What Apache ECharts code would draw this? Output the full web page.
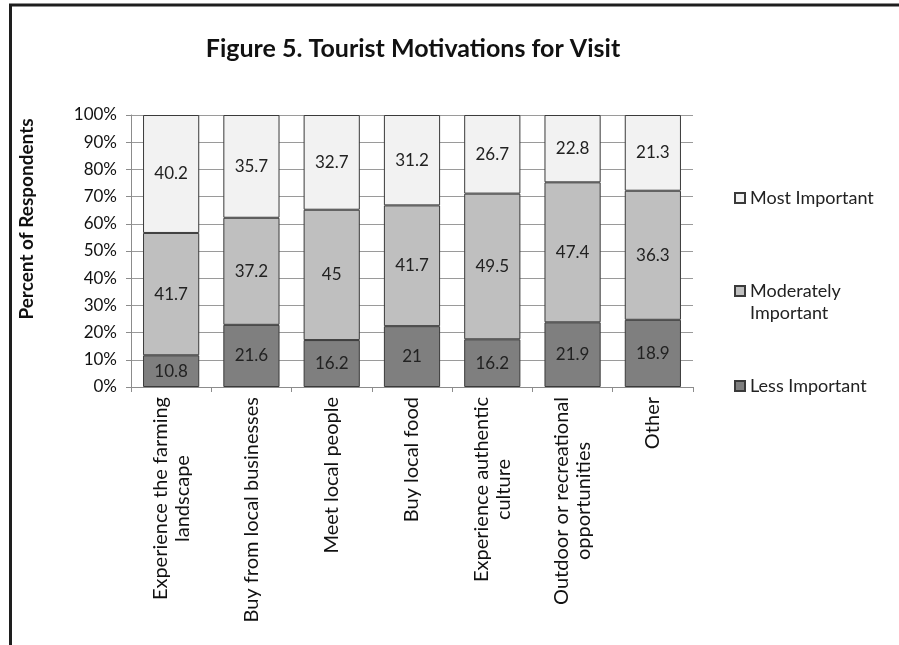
<!DOCTYPE html>
<html>
<head>
<meta charset="utf-8">
<script src="https://cdn.jsdelivr.net/npm/echarts@6/dist/echarts.min.js"></script>
<style>
html,body{margin:0;padding:0;background:#fff;}
#chart{width:899px;height:645px;}
</style>
</head>
<body>
<div id="chart"></div>
<script>
const categories = [
  'Experience the farming\nlandscape',
  'Buy from local businesses',
  'Meet local people',
  'Buy local food',
  'Experience authentic\nculture',
  'Outdoor or recreational\nopportunities',
  'Other'
];
const lessImportant = [10.8, 21.6, 16.2, 21, 16.2, 21.9, 18.9];
const moderatelyImportant = [41.7, 37.2, 45, 41.7, 49.5, 47.4, 36.3];
const mostImportant = [40.2, 35.7, 32.7, 31.2, 26.7, 22.8, 21.3];
const yTicks = ['0%','10%','20%','30%','40%','50%','60%','70%','80%','90%','100%'];

const FONT = 'Lato';
const totals = categories.map((c, i) => lessImportant[i] + moderatelyImportant[i] + mostImportant[i]);
const pct = arr => arr.map((v, i) => v / totals[i] * 100);

const chart = echarts.init(document.getElementById('chart'), null, {renderer: 'canvas'});

function mkSeries(name, raw, color) {
  return {
    name: name,
    type: 'bar',
    stack: 'total',
    barWidth: '70%',
    data: pct(raw),
    itemStyle: {color: color, borderColor: '#3a3a3a', borderWidth: 1},
    label: {
      show: true,
      position: 'inside',
      fontFamily: FONT,
      fontSize: 17,
      color: '#222',
      formatter: p => String(raw[p.dataIndex])
    },
    emphasis: {disabled: true}
  };
}

const legendCommon = {
  orient: 'vertical',
  left: 734,
  padding: 0,
  itemWidth: 10,
  itemHeight: 10,
  icon: 'rect',
  selectedMode: false,
  textStyle: {fontFamily: FONT, fontSize: 18, color: '#222'}
};

chart.setOption({
  backgroundColor: '#fff',
  animation: false,
  title: {
    text: 'Figure 5. Tourist Motivations for Visit',
    left: 408,
    top: 31,
    textAlign: 'center',
    textStyle: {fontFamily: FONT, fontSize: 25, fontWeight: 'bold', color: '#111'}
  },
  grid: {left: 131, right: 206, top: 115, bottom: 258, containLabel: false},
  legend: [
    Object.assign({}, legendCommon, {top: 189, data: ['Most Important']}),
    Object.assign({}, legendCommon, {
      top: 260, data: ['Moderately Important'],
      formatter: () => '{e| }\n{a|Moderately}\n{a|Important}',
      textStyle: {
        fontFamily: FONT, fontSize: 18, color: '#222',
        rich: {
          e: {fontFamily: FONT, fontSize: 18, lineHeight: 22},
          a: {fontFamily: FONT, fontSize: 18, lineHeight: 22, color: '#222'}
        }
      }
    }),
    Object.assign({}, legendCommon, {top: 377, data: ['Less Important']})
  ],
  xAxis: {
    type: 'category',
    data: categories,
    axisLine: {lineStyle: {color: '#8c8c8c', width: 1}},
    axisTick: {show: true, length: 5, alignWithLabel: false, lineStyle: {color: '#8c8c8c'}},
    axisLabel: {
      interval: 0,
      rotate: 90,
      margin: 10,
      color: '#111',
      fontFamily: FONT,
      fontSize: 20,
      formatter: v => v.split('\n').map(l => '{c|' + l + '}').join('\n'),
      rich: {c: {align: 'center', fontFamily: FONT, fontSize: 20, lineHeight: 22, color: '#111'}}
    }
  },
  yAxis: {
    type: 'value',
    min: 0,
    max: 100,
    interval: 10,
    axisLine: {show: true, lineStyle: {color: '#8c8c8c', width: 1}},
    axisTick: {show: true, length: 5, lineStyle: {color: '#8c8c8c'}},
    splitLine: {show: true, lineStyle: {color: '#9a9a9a', width: 1}},
    axisLabel: {
      margin: 14,
      color: '#111',
      fontFamily: FONT,
      fontSize: 17,
      formatter: v => yTicks[Math.round(v / 10)]
    }
  },
  graphic: [
    {
      type: 'text',
      x: 27,
      y: 219,
      rotation: Math.PI / 2,
      style: {
        text: 'Percent of Respondents',
        fontFamily: FONT,
        fontSize: 19,
        fontWeight: 'bold',
        fill: '#111',
        align: 'center',
        verticalAlign: 'middle'
      }
    },
    {
      type: 'rect',
      shape: {x: 10.5, y: 5, width: 1200, height: 1200},
      style: {fill: null, stroke: '#1e1e1e', lineWidth: 3},
      silent: true
    }
  ],
  series: [
    mkSeries('Less Important', lessImportant, '#7f7f7f'),
    mkSeries('Moderately Important', moderatelyImportant, '#bfbfbf'),
    mkSeries('Most Important', mostImportant, '#f2f2f2')
  ]
});
</script>
</body>
</html>
